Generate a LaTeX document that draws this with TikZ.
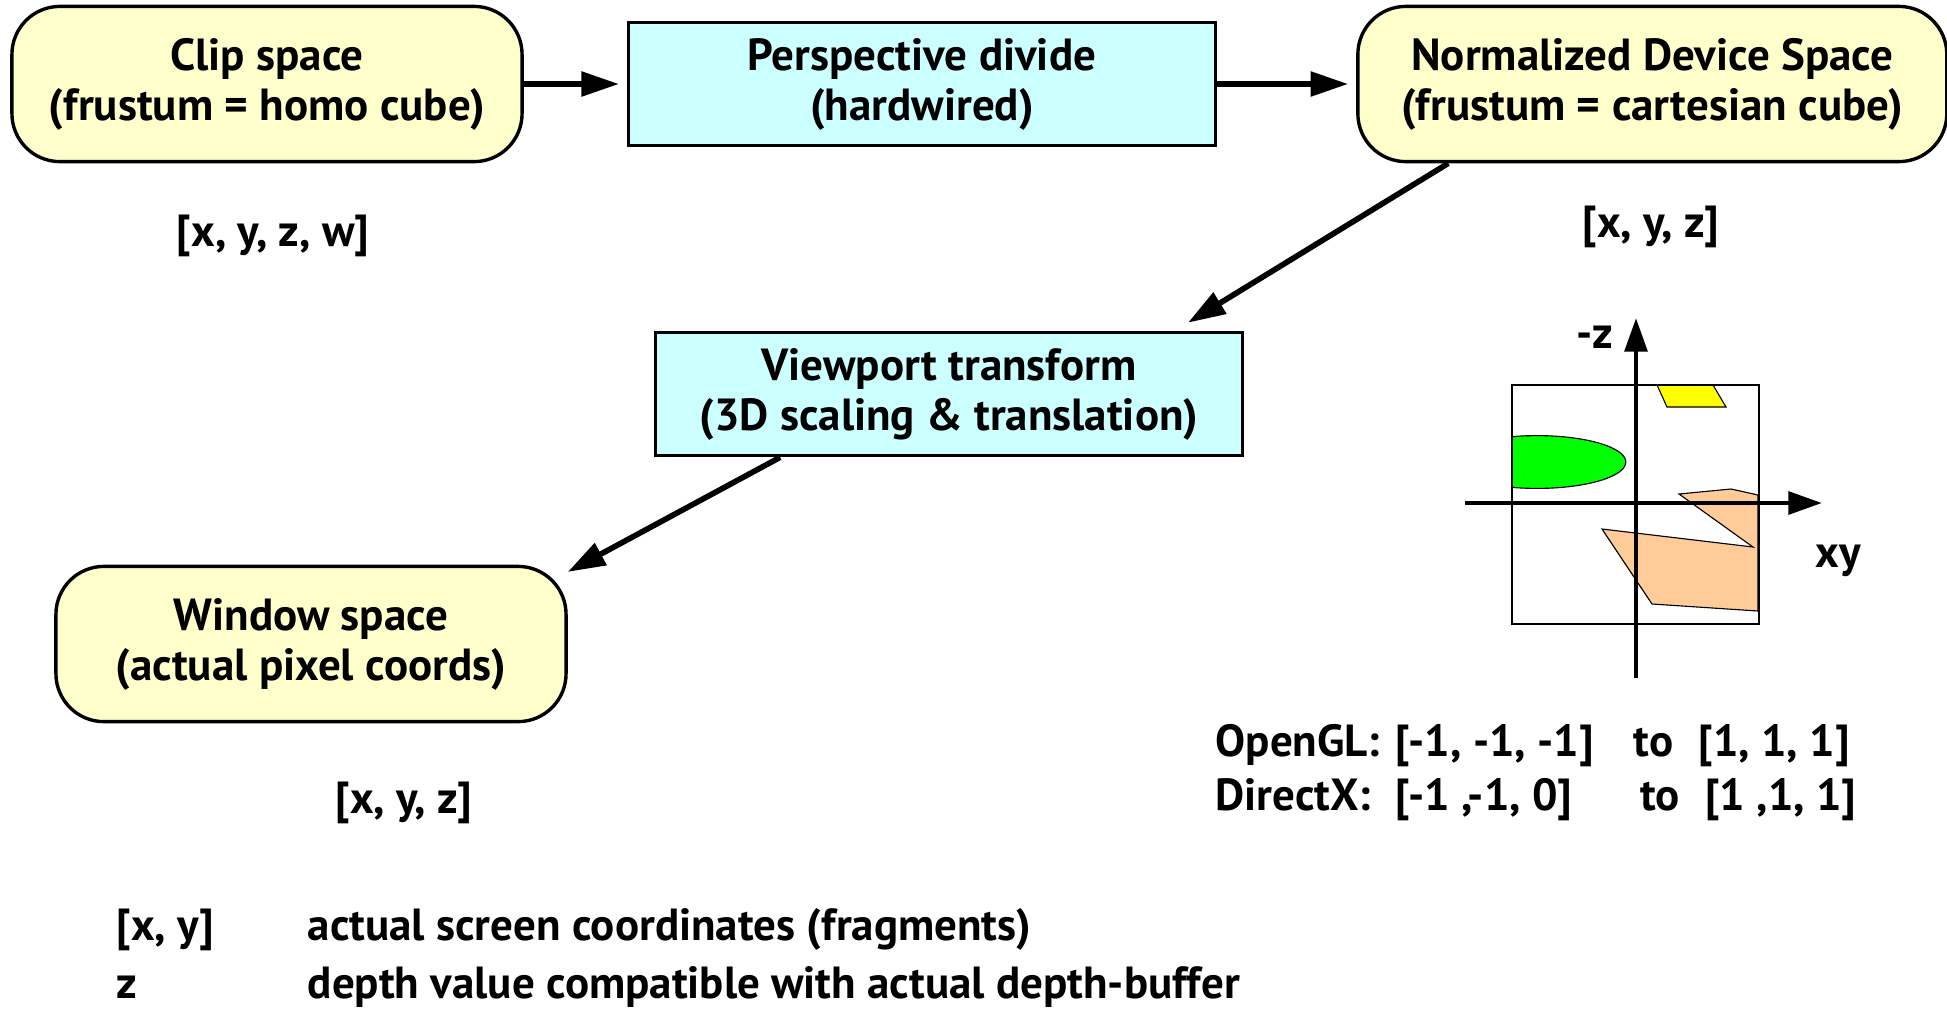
\documentclass[tikz,border=0pt]{standalone}
\usepackage{fontspec}
\setmainfont{PT Sans}
\usetikzlibrary{arrows.meta,positioning}

\definecolor{spacefill}{HTML}{FFFFCC}
\definecolor{stagefill}{HTML}{CCFFFF}
\definecolor{blobgreen}{HTML}{00FF00}
\definecolor{blobyellow}{HTML}{FFFF00}
\definecolor{blobpeach}{HTML}{FFCC99}

\begin{document}
\begin{tikzpicture}[x=0.0125cm, y=-0.0125cm,
  font=\fontsize{16}{17.8}\selectfont\bfseries,
  space/.style = {draw, line width=1.2pt, fill=spacefill, rounded corners=0.6cm,
    minimum width=6.375cm, minimum height=1.94cm, align=center},
  stage/.style = {draw, line width=1.2pt, fill=stagefill,
    minimum width=7.33cm, minimum height=1.54cm, align=center},
  arr/.style = {line width=2pt, -{Triangle[length=0.47cm, width=0.3cm]}},
  axis/.style = {line width=1.7pt, -{Triangle[length=0.42cm, width=0.28cm]}},
  row/.style = {anchor=base west, inner sep=0pt}]
  \useasboundingbox (0,0) rectangle (1947,1008);

  % pipeline
  \node[space] (clip) at (267,84) {Clip space\\(frustum = homo cube)};
  \node[stage] (persp) [right=1.29cm of clip] {Perspective divide\\(hardwired)};
  \node[space, minimum width=7.36cm] (ndc) [right=1.74cm of persp] {Normalized Device Space\\(frustum = cartesian cube)};
  \node[stage] (vport) at (949,394) {Viewport transform\\(3D scaling \& translation)};
  \node[space] (win) at (311,644) {Window space\\(actual pixel coords)};

  \draw[arr, shorten >=0.1cm] (clip) -- (persp);
  \draw[arr, shorten >=0.1cm] (persp) -- (ndc);
  \draw[arr] ([xshift=-2.55cm]ndc.south) -- ([xshift=-0.7cm, yshift=0.1cm]vport.north east);
  \draw[arr] ([xshift=-2.11cm]vport.south) -- ([yshift=-0.09cm]win.north east);

  \node (clipv) at (273,236) {[x, y, z, w]};
  \node (ndcv) at (1651,227) {[x, y, z]};
  \node (winv) at (404,803) {[x, y, z]};

  % ndc cube seen from the side
  \begin{scope}
    \clip (1512,385) rectangle (1759,624);
    \filldraw[fill=blobgreen, line width=0.4pt] (1537,462) ellipse [x radius=1.11cm, y radius=0.33cm];
  \end{scope}
  \filldraw[fill=blobyellow, line width=0.4pt] (1657,385) -- (1713,385) -- (1726,407) -- (1667,407) -- cycle;
  \filldraw[fill=blobpeach, line width=0.4pt] (1602,529) -- (1753,547) -- (1679,494) -- (1731,489)
    -- (1758,495) -- (1758,611) -- (1652,604) -- cycle;
  \draw[line width=0.8pt] (1512,385) rectangle (1759,624);
  \draw[axis] (1636,678) -- (1636,318);
  \draw[axis] (1465,503) -- (1822,503);
  \node (zlbl) at (1595,337) {-z};
  \node (xylbl) at (1838,561) {xy};

  \node[row] (gl) at (1215,756) {\makebox[2.25cm][l]{OpenGL:}\makebox[2.975cm][l]{[-1, -1, -1]}\makebox[0.81cm][l]{to}[1, 1, 1]};
  \node[row] (dx) at (1215,810) {\makebox[2.25cm][l]{DirectX:}\makebox[3.06cm][l]{[-1 ,-1, 0]}\makebox[0.81cm][l]{to}[1 ,1, 1]};

  \node[row] (key1) at (116,940) {\makebox[2.39cm][l]{[x, y]}actual screen coordinates (fragments)};
  \node[row] (key2) at (116,998) {\makebox[2.39cm][l]{z}depth value compatible with actual depth-buffer};
\end{tikzpicture}
\end{document}
